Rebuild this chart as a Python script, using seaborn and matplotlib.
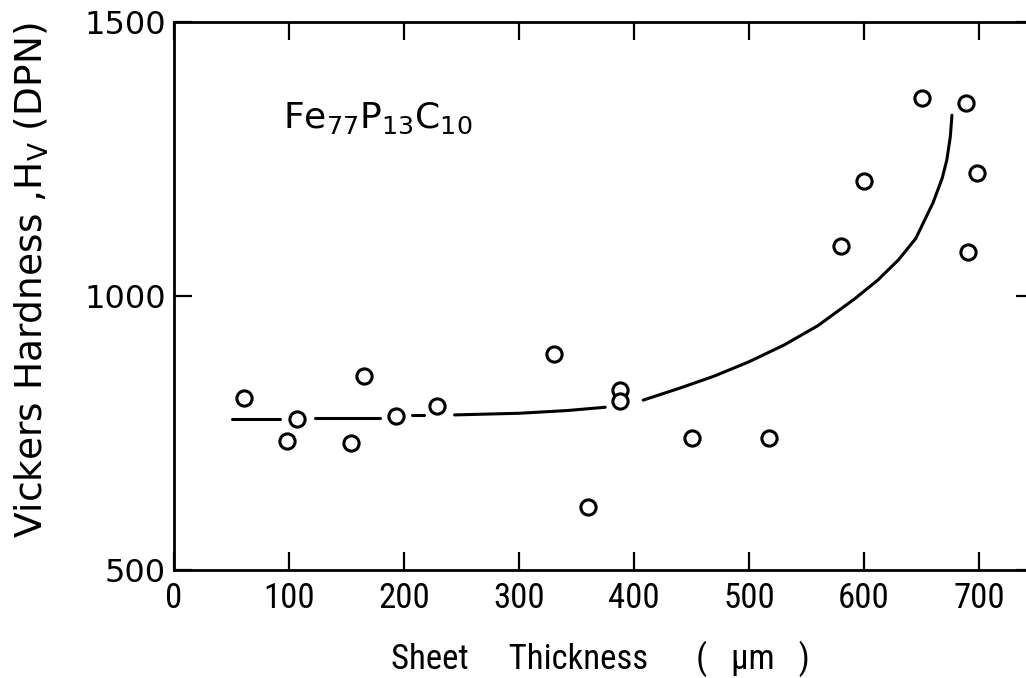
import matplotlib
matplotlib.use("Agg")
import matplotlib.pyplot as plt
import seaborn as sns
import pandas as pd
from matplotlib import font_manager

# ---- data ----
thickness = [61, 107, 98, 165, 154, 193, 229, 330, 388, 388, 360,
             450, 517, 580, 600, 650, 689, 698, 690]
hardness = [814, 776, 735, 854, 732, 781, 799, 894, 828, 808, 615,
            741, 741, 1091, 1210, 1361, 1352, 1224, 1080]

# hand-drawn trend curve, broken where it passes the circles
curve_seg = [1, 1, 2, 2, 3, 3, 4, 4, 4, 4,
             5, 5, 5, 5, 5, 5, 5, 5, 5, 5, 5, 5, 5, 5, 5]
curve_x = [50, 92, 123, 179, 207, 217, 244, 300, 342, 375,
           408, 440, 470, 500, 530, 560, 592, 612, 630, 645,
           660, 668, 672, 675, 676.5]
curve_y = [776, 776, 777, 777, 783, 783, 783, 786, 791, 797,
           810, 832, 854, 880, 910, 946, 995, 1029, 1066, 1105,
           1170, 1215, 1248, 1290, 1330]

x_ticks = [0, 100, 200, 300, 400, 500, 600, 700]
y_ticks = [500, 1000, 1500]

sns.set_theme(style="white")
plt.rcParams['font.family'] = ['DejaVu Sans']
plt.rcParams['mathtext.fontset'] = 'dejavusans'

names = {(f.name, f.stretch) for f in font_manager.fontManager.ttflist}
cond = None
for fam in ['Liberation Sans Narrow', 'Roboto Condensed', 'Open Sans Condensed']:
    if any(n == fam for n, _ in names):
        cond = dict(family=fam)
        break
if cond is None and any(n == 'DejaVu Sans' and s == 'condensed' for n, s in names):
    cond = dict(family='DejaVu Sans', stretch='condensed')

if cond is not None:
    xtick_font = dict(cond, size=25)
    xlab_font = dict(cond, size=25)
else:
    xtick_font = dict(family='DejaVu Sans', size=21)
    xlab_font = dict(family='DejaVu Sans', size=22)

fig = plt.figure(figsize=(10.26, 6.78), dpi=100)
L, R, B, T = 174 / 1026, 1034 / 1026, 1 - 570 / 678, 1 - 22 / 678
ax = fig.add_axes([L, B, R - L, T - B])

pts = pd.DataFrame({"x": thickness, "y": hardness})
cur = pd.DataFrame({"x": curve_x, "y": curve_y, "seg": curve_seg})

sns.lineplot(data=cur, x="x", y="y", units="seg", estimator=None, sort=False,
             color="black", linewidth=2.2, ax=ax, legend=False)
sns.scatterplot(data=pts, x="x", y="y", ax=ax, s=120, marker="o",
                facecolor="white", edgecolor="black", linewidth=2.2,
                zorder=3, legend=False)

ax.set_xlim(0, (1034 - 174) / 1.15)
ax.set_ylim(500, 1500)
ax.set_xticks(x_ticks)
ax.set_yticks(y_ticks)
ax.set_xlabel("")
ax.set_ylabel("")

for s in ax.spines.values():
    s.set_color("black")
    s.set_linewidth(2.0)

ax.tick_params(axis='x', direction='in', length=13, width=1.6,
               top=True, bottom=True, pad=9, colors='black')
ax.tick_params(axis='y', direction='in', length=13, width=1.6,
               left=True, right=True, pad=6, colors='black')
ax.set_xticklabels([str(v) for v in x_ticks], fontdict=xtick_font)
ax.set_yticklabels([str(v) for v in y_ticks], fontsize=23, family='DejaVu Sans')

ax.text((283 - 174) / 1.15, 1500 - (128 - 22) / 0.548, r"Fe$_{77}$P$_{13}$C$_{10}$",
        fontsize=26, ha="left", va="baseline", color="black")

fig.text(32 / 1026, 1 - 280 / 678, r"Vickers Hardness ,H$_\mathrm{V}$ (DPN)",
         rotation=90, ha="center", va="center", fontsize=27, color="black")
fig.text(600 / 1026, 1 - 669 / 678, "Sheet     Thickness      (   \u03bcm   )",
         ha="center", va="baseline", color="black", **xlab_font)

fig.savefig("out.png", dpi=100)
